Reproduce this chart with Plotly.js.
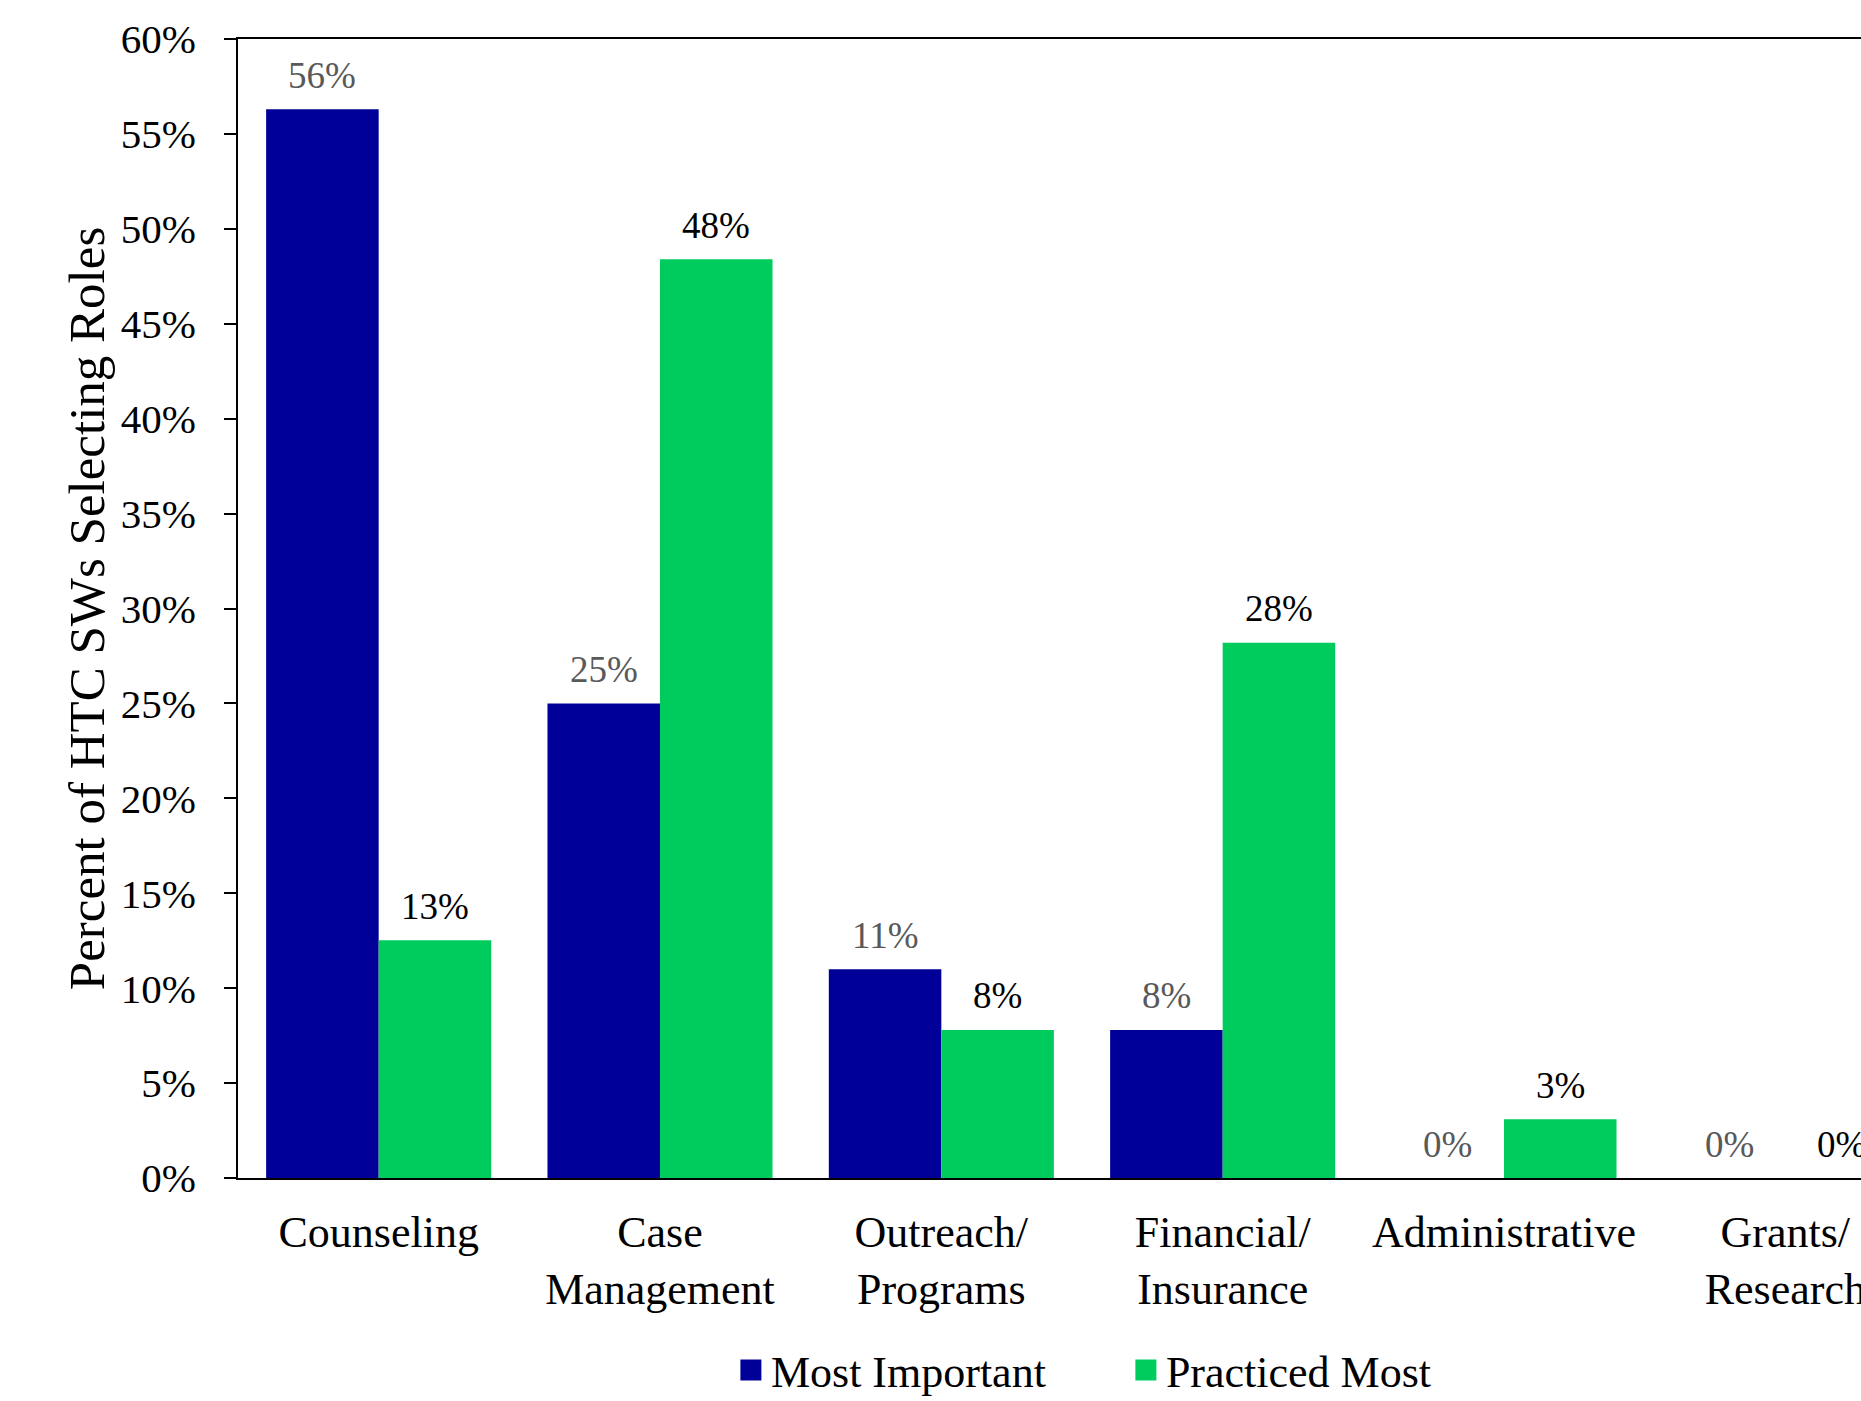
<!DOCTYPE html>
<html>
<head>
<meta charset="utf-8">
<script src="https://cdn.plot.ly/plotly-3.0.1.min.js"></script>
<style>
html, body { margin: 0; padding: 0; overflow: hidden; background: #fff; }
#chart { width: 1940px; height: 1401px; }
</style>
</head>
<body>
<div id="chart"></div>
<script>
const categories = ['Counseling', 'Case<br>Management', 'Outreach/<br>Programs', 'Financial/<br>Insurance', 'Administrative', 'Grants/<br>Research'];
const mostImportant = [56.3, 25.0, 11.0, 7.8, 0, 0];
const practicedMost = [12.52, 48.4, 7.8, 28.2, 3.1, 0];
const seriesNames = ['Most Important', 'Practiced Most'];
const yTickValues = [0, 5, 10, 15, 20, 25, 30, 35, 40, 45, 50, 55, 60];
const yTickLabels = yTickValues.map(v => v + '%');

const FONT = 'Liberation Serif, Times New Roman, serif';
const blue = '#000099';
const green = '#00CC5E';

const traces = [
  { type: 'bar', name: seriesNames[0], x: categories, y: mostImportant, marker: { color: blue }, hoverinfo: 'skip', showlegend: false },
  { type: 'bar', name: seriesNames[1], x: categories, y: practicedMost, marker: { color: green }, hoverinfo: 'skip', showlegend: false },
  // legend keys only (larger square swatches)
  { type: 'scatter', mode: 'markers', name: seriesNames[0], x: [null], y: [null],
    marker: { symbol: 'square', size: 16, color: blue, line: { color: blue, width: 5 } }, showlegend: true },
  { type: 'scatter', mode: 'markers', name: seriesNames[1], x: [null], y: [null],
    marker: { symbol: 'square', size: 16, color: green, line: { color: green, width: 5 } }, showlegend: true }
];

const annotations = [];
categories.forEach((c, i) => {
  annotations.push({ x: i - 0.2, y: mostImportant[i], xref: 'x', yref: 'y', text: Math.round(mostImportant[i]) + '%',
    showarrow: false, yanchor: 'middle', yshift: 34, font: { family: FONT, size: 37, color: '#595959' } });
  annotations.push({ x: i + 0.2, y: practicedMost[i], xref: 'x', yref: 'y', text: Math.round(practicedMost[i]) + '%',
    showarrow: false, yanchor: 'middle', yshift: 34, font: { family: FONT, size: 37, color: '#000000' } });
});

const layout = {
  width: 1940, height: 1401,
  margin: { l: 238, r: 14, t: 39, b: 223, pad: 0, autoexpand: false },
  paper_bgcolor: '#ffffff', plot_bgcolor: '#ffffff',
  font: { family: FONT, color: '#000000' },
  barmode: 'group', bargap: 0.2, bargroupgap: 0,
  showlegend: true,
  legend: { orientation: 'h', x: 0.292, xanchor: 'left', y: -0.169, yanchor: 'middle',
    font: { family: FONT, size: 44, color: '#000000' }, entrywidth: 350, entrywidthmode: 'pixels',
    itemsizing: 'trace' },
  xaxis: { type: 'category', showline: true, linecolor: '#000000', linewidth: 2, mirror: true,
    ticks: '', showgrid: false, tickfont: { family: FONT, size: 44, color: '#000000' },
    ticklabelstandoff: 14, automargin: false },
  yaxis: { range: [0, 60], tickvals: yTickValues, ticktext: yTickLabels, showline: true, linecolor: '#000000', linewidth: 2,
    mirror: true, ticks: 'outside', ticklen: 12, tickwidth: 2, tickcolor: '#000000', showgrid: false, zeroline: false,
    tickfont: { family: FONT, size: 41, color: '#000000' }, ticklabelstandoff: 20, automargin: false,
    title: { text: 'Percent of HTC SWs Selecting Roles', font: { family: FONT, size: 51, color: '#000000' }, standoff: 0 } },
  annotations: annotations
};

Plotly.newPlot('chart', traces, layout, { staticPlot: true, displayModeBar: false });
</script>
</body>
</html>
